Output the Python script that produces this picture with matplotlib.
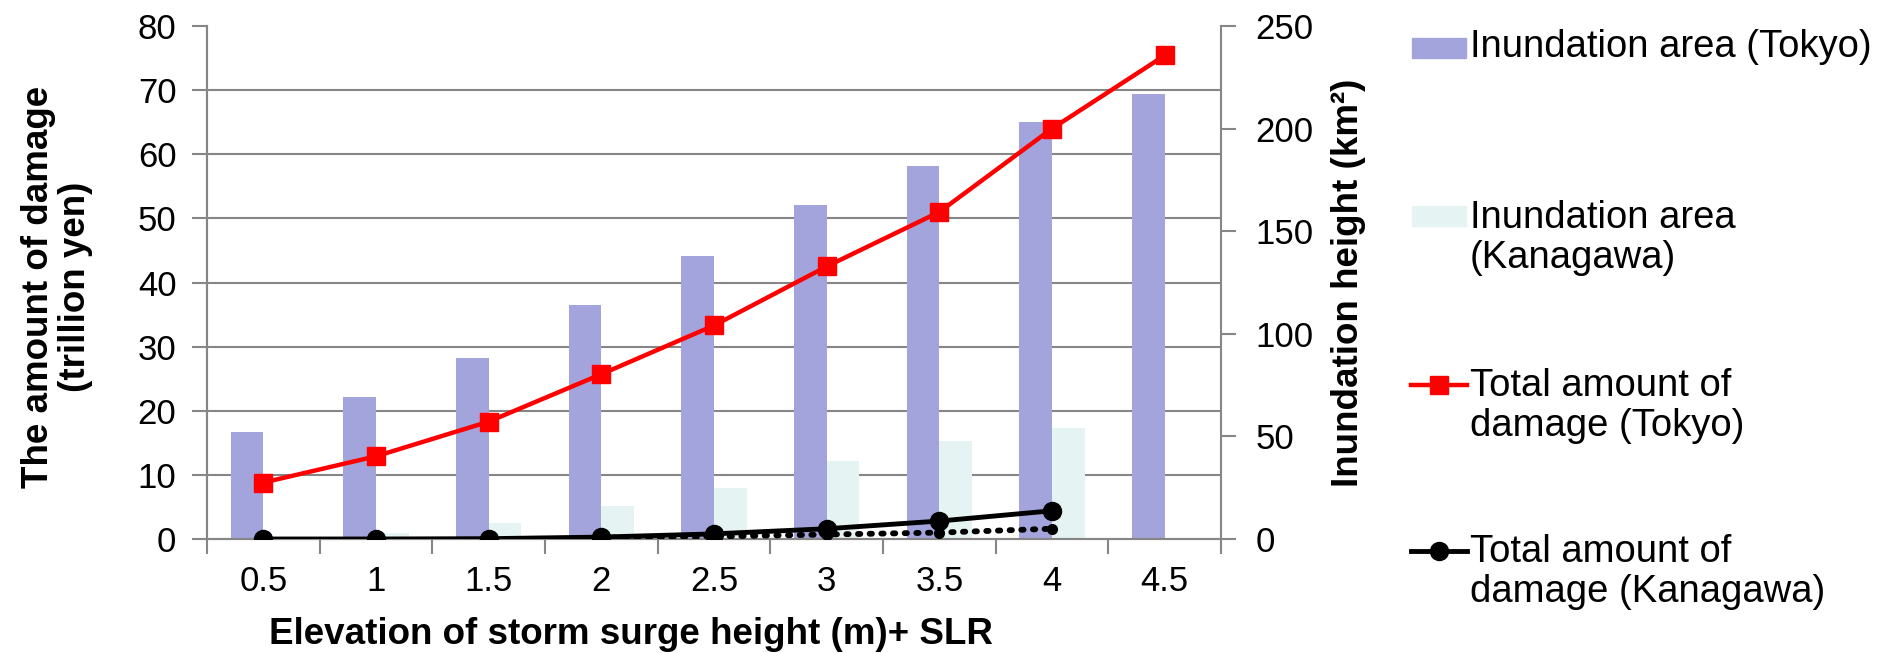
import numpy as np
import matplotlib.pyplot as plt
from matplotlib.ticker import MultipleLocator, FixedLocator
from matplotlib.lines import Line2D
from matplotlib.patches import Rectangle

plt.rcParams['font.family'] = ['Liberation Sans', 'DejaVu Sans']

# data
surge = ['0.5', '1', '1.5', '2', '2.5', '3', '3.5', '4', '4.5']
area_tokyo = [52, 69, 88, 114, 138, 163, 182, 203, 217]
area_kanagawa = [0, 3, 8, 16, 25, 38, 48, 54, 0]
damage_tokyo = [8.8, 12.9, 18.3, 25.7, 33.3, 42.5, 51.0, 64.0, 75.4]
damage_kanagawa = [0.0, 0.0, 0.05, 0.3, 0.8, 1.6, 2.8, 4.4]
damage_kanagawa_dot = [0.2, 0.4, 0.7, 1.0, 1.6]   # from 2 m to 4 m

grey = '#868686'
c_tokyo = '#A4A4DD'
c_kana = '#E6F3F3'
fs_tick = 25
fs_lab = 26.5
fs_leg = 27.5

W, H = 1880, 653
fig = plt.figure(figsize=(W / 100, H / 100), dpi=100)
ax = fig.add_axes([207 / W, 1 - 539 / H, (1221 - 207) / W, (539 - 26) / H])
ax2 = ax.twinx()
ax.set_zorder(ax2.get_zorder() + 1)
ax.patch.set_visible(False)

x = np.arange(len(surge))
bw = 0.29

# bars on the right axis
ax2.bar(x - bw / 2, area_tokyo, bw, color=c_tokyo, zorder=2)
ax2.bar(x + bw / 2, area_kanagawa, bw, color=c_kana, zorder=2)
ax2.set_ylim(0, 250)
ax2.yaxis.set_major_locator(MultipleLocator(50))
# horizontal grid matching the left scale (every 10 -> 31.25), drawn behind bars
ax2.yaxis.set_minor_locator(MultipleLocator(31.25))
ax2.grid(which='minor', axis='y', color=grey, lw=1.5, zorder=0)
ax2.set_axisbelow(True)
ax2.tick_params(axis='y', which='minor', length=0)
ax2.tick_params(axis='y', which='major', length=11, width=1.5, color=grey,
                labelsize=fs_tick, pad=14)

# lines on the left axis
ax.plot(x, damage_tokyo, color='#FF0000', lw=3.2, marker='s', ms=13, zorder=3)
ax.plot(x[:len(damage_kanagawa)], damage_kanagawa, color='black', lw=3.5,
        marker='o', ms=13, zorder=4)
ax.plot(x[3:3 + len(damage_kanagawa_dot)], damage_kanagawa_dot, color='black',
        lw=4.2, ls=(0, (0.4, 1.6)), dash_capstyle='round', marker='o', ms=7,
        zorder=3)
ax.set_ylim(0, 80)
ax.set_xlim(-0.5, len(surge) - 0.5)
ax.yaxis.set_major_locator(MultipleLocator(10))
ax.tick_params(axis='y', length=11, width=1.5, color=grey, labelsize=fs_tick,
               pad=11)

# category ticks at boundaries, labels at centres
ax.xaxis.set_major_locator(FixedLocator(np.arange(-0.5, len(surge), 1.0)))
ax.xaxis.set_minor_locator(FixedLocator(x))
ax.set_xticklabels([], minor=False)
ax.set_xticklabels(surge, minor=True)
ax.tick_params(axis='x', which='major', length=11, width=1.5, color=grey)
ax.tick_params(axis='x', which='minor', length=0, labelsize=fs_tick, pad=19)

for a in (ax, ax2):
    a.spines['top'].set_visible(False)
    for s in ('left', 'right', 'bottom'):
        a.spines[s].set_color(grey)
        a.spines[s].set_linewidth(1.5)
ax.spines['right'].set_visible(False)

fig.text(631 / W, 1 - 634 / H, 'Elevation of storm surge height (m)+ SLR',
         ha='center', va='center', fontsize=fs_lab, fontweight='bold')
fig.text(57 / W, 1 - 287 / H, 'The amount of damage\n(trillion yen)',
         ha='center', va='center', rotation=90, fontsize=fs_lab,
         fontweight='bold', multialignment='center', linespacing=1.05)
fig.text(1349 / W, 1 - 283 / H, 'Inundation height (km²)',
         ha='center', va='center', rotation=90, fontsize=fs_lab,
         fontweight='bold')

# legend drawn by hand so the key sits on the first text line
tx = 1470 / W
hx0, hx1 = 1411 / W, 1467 / W
fig.add_artist(Rectangle((1412 / W, 1 - 58 / H), 54 / W, 20 / H,
                         color=c_tokyo, transform=fig.transFigure))
fig.text(tx, 1 - 47 / H, 'Inundation area (Tokyo)', va='center',
         fontsize=fs_leg)
fig.add_artist(Rectangle((1412 / W, 1 - 226 / H), 54 / W, 20 / H,
                         color=c_kana, transform=fig.transFigure))
fig.text(tx, 1 - 238 / H, 'Inundation area\n(Kanagawa)', va='center',
         fontsize=fs_leg, linespacing=1.12)
fig.add_artist(Line2D([hx0, hx1], [1 - 385 / H] * 2, color='#FF0000', lw=3.2,
                      transform=fig.transFigure))
fig.add_artist(Line2D([(hx0 + hx1) / 2], [1 - 385 / H], color='#FF0000',
                      marker='s', ms=13, transform=fig.transFigure))
fig.text(tx, 1 - 406 / H, 'Total amount of\ndamage (Tokyo)', va='center',
         fontsize=fs_leg, linespacing=1.12)
fig.add_artist(Line2D([hx0, hx1], [1 - 551 / H] * 2, color='black', lw=3.5,
                      transform=fig.transFigure))
fig.add_artist(Line2D([(hx0 + hx1) / 2], [1 - 551 / H], color='black',
                      marker='o', ms=13, transform=fig.transFigure))
fig.text(tx, 1 - 572 / H, 'Total amount of\ndamage (Kanagawa)', va='center',
         fontsize=fs_leg, linespacing=1.12)

fig.savefig('out.png', dpi=100, facecolor='white')
